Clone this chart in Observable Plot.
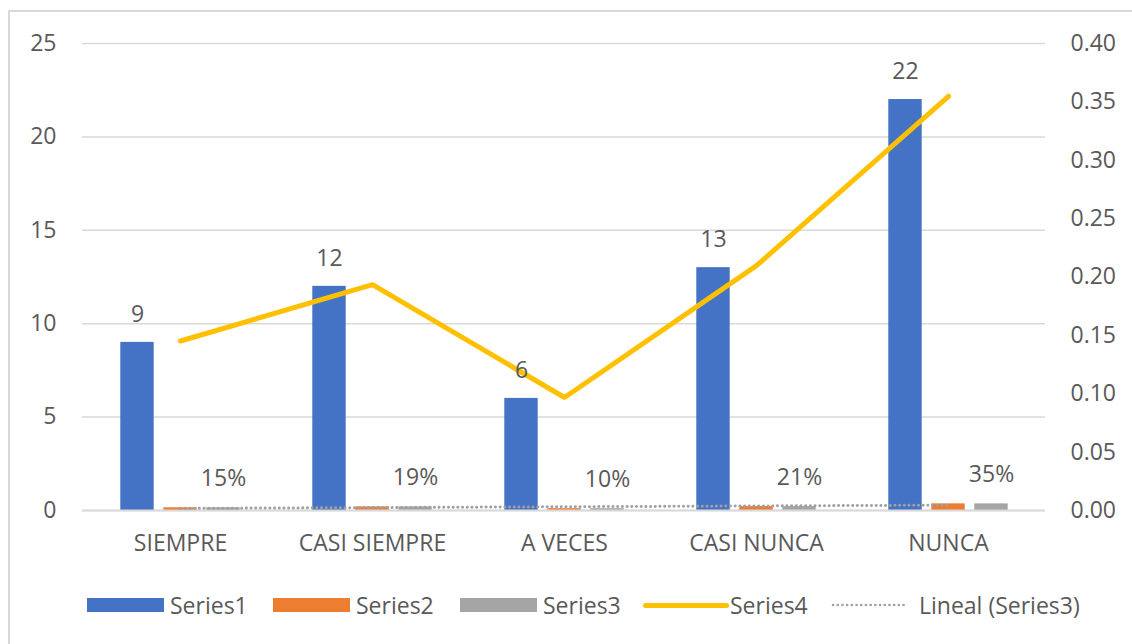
<!DOCTYPE html>
<html>
<head>
<meta charset="utf-8">
<script src="https://cdn.jsdelivr.net/npm/d3@7"></script>
<script src="https://cdn.jsdelivr.net/npm/@observablehq/plot@0.6"></script>
<style>
  html, body { margin: 0; padding: 0; background: #fff; overflow: hidden; }
  #wrap { position: relative; width: 1132px; height: 644px; font-family: "Open Sans", sans-serif; }
  #frame { position: absolute; left: 8px; top: 10px; width: 1200px; height: 700px; border-left: 2px solid #d9d9d9; border-top: 2px solid #d9d9d9; }
  #chart { position: absolute; left: 0; top: 0; }
  #legend { position: absolute; left: 0; top: 588px; width: 1132px; height: 34px; display: flex; align-items: center; font-size: 23px; color: #595959; }
  .item { display: flex; align-items: center; position: absolute; top: 0; height: 34px; }
  .sw { width: 77px; height: 14px; margin-right: 6px; }
</style>
</head>
<body>
<div id="wrap">
  <div id="frame"></div>
  <div id="chart"></div>
  <div id="legend"></div>
</div>
<script>
const categories = ["SIEMPRE", "CASI SIEMPRE", "A VECES", "CASI NUNCA", "NUNCA"];
const series1 = [9, 12, 6, 13, 22];
const series2 = [0.1452, 0.1935, 0.0968, 0.2097, 0.3548];
const series3 = [0.1452, 0.1935, 0.0968, 0.2097, 0.3548];
const series4 = [0.1452, 0.1935, 0.0968, 0.2097, 0.3548];
const leftTicks = [0, 5, 10, 15, 20, 25];
const rightTicks = [0, 0.05, 0.10, 0.15, 0.20, 0.25, 0.30, 0.35, 0.40];
const seriesNames = ["Series1", "Series2", "Series3", "Series4", "Lineal (Series3)"];

const colors = {s1: "#4472c4", s2: "#ed7d31", s3: "#a5a5a5", s4: "#ffc000", trend: "#a0a0a0"};
const textColor = "#595959";
const rightMax = 0.40, leftMax = 25;
const k = leftMax / rightMax;

const rows = categories.map((c, i) => ({cat: c, s1: series1[i], s2: series2[i], s3: series3[i], s4: series4[i] * k, idx: i + 1}));

// linear trendline of Series3 (least squares over category index)
const mx = d3.mean(rows, d => d.idx), my = d3.mean(rows, d => d.s3);
const slope = d3.sum(rows, d => (d.idx - mx) * (d.s3 - my)) / d3.sum(rows, d => (d.idx - mx) ** 2);
rows.forEach(d => d.trend = my + slope * (d.idx - mx));

const W = 1132, H = 588;
const mL = 82, mR = 87, mT = 43, mB = H - 510;
const bw = (W - mL - mR) / categories.length;
const barW = 34, off = 43;
const inset = (bw - barW) / 2;
const pct = d3.format(".0%");

const chart = Plot.plot({
  width: W, height: H,
  marginLeft: mL, marginRight: mR, marginTop: mT, marginBottom: mB,
  style: {fontFamily: "Open Sans, sans-serif", fontSize: "23px", color: textColor, background: "transparent", overflow: "visible"},
  x: {domain: categories, padding: 0, label: null},
  y: {domain: [0, leftMax], label: null},
  marks: [
    Plot.ruleY(leftTicks, {stroke: "#d9d9d9", strokeWidth: 1.5}),
    Plot.axisY(leftTicks, {anchor: "left", tickSize: 0, tickPadding: 26, fill: textColor, fontSize: 23, label: null}),
    Plot.axisY(rightTicks.map(v => v * k), {anchor: "right", tickSize: 0, tickPadding: 25, fill: textColor, fontSize: 23, label: null, tickFormat: d => (d / k).toFixed(2)}),
    Plot.axisX({tickSize: 0, tickPadding: 24, fill: textColor, fontSize: 23, label: null}),
    Plot.barY(rows, {x: "cat", y: "s1", fill: colors.s1, insetLeft: inset, insetRight: inset, dx: -off}),
    Plot.barY(rows, {x: "cat", y: "s2", fill: colors.s2, insetLeft: inset, insetRight: inset}),
    Plot.barY(rows, {x: "cat", y: "s3", fill: colors.s3, insetLeft: inset, insetRight: inset, dx: off}),
    Plot.ruleY([0], {stroke: "#d9d9d9", strokeWidth: 2}),
    Plot.line(rows, {x: "cat", y: "trend", stroke: colors.trend, strokeWidth: 3, strokeDasharray: "0.1 4.6", strokeLinecap: "round"}),
    Plot.line(rows, {x: "cat", y: "s4", stroke: colors.s4, strokeWidth: 5, strokeLinecap: "round", strokeLinejoin: "miter"}),
    Plot.text(rows, {x: "cat", y: "s1", text: d => String(d.s1), dx: -off, dy: -28, fill: textColor, fontSize: 23}),
    Plot.text(rows, {x: "cat", y: "s3", text: d => pct(d.s3), dx: off, dy: -29, fill: textColor, fontSize: 23})
  ]
});
document.getElementById("chart").appendChild(chart);

// legend
const legend = document.getElementById("legend");
const lefts = [87, 273, 460, 643, 831];
seriesNames.forEach((name, i) => {
  const it = document.createElement("div");
  it.className = "item";
  it.style.left = lefts[i] + "px";
  let sw;
  if (i < 3) {
    sw = document.createElement("div");
    sw.className = "sw";
    sw.style.background = [colors.s1, colors.s2, colors.s3][i];
  } else if (i === 3) {
    sw = document.createElement("div");
    sw.style.cssText = `width:86px;height:5px;border-radius:3px;background:${colors.s4};margin-right:1px;`;
  } else {
    sw = document.createElementNS("http://www.w3.org/2000/svg", "svg");
    sw.setAttribute("width", "76");
    sw.setAttribute("height", "6");
    sw.style.marginRight = "12px";
    sw.innerHTML = `<line x1="2" y1="3" x2="74" y2="3" stroke="${colors.trend}" stroke-width="2.6" stroke-dasharray="0.1 4.6" stroke-linecap="round"/>`;
  }
  const tx = document.createElement("span");
  tx.textContent = name;
  it.appendChild(sw);
  it.appendChild(tx);
  legend.appendChild(it);
});
</script>
</body>
</html>
